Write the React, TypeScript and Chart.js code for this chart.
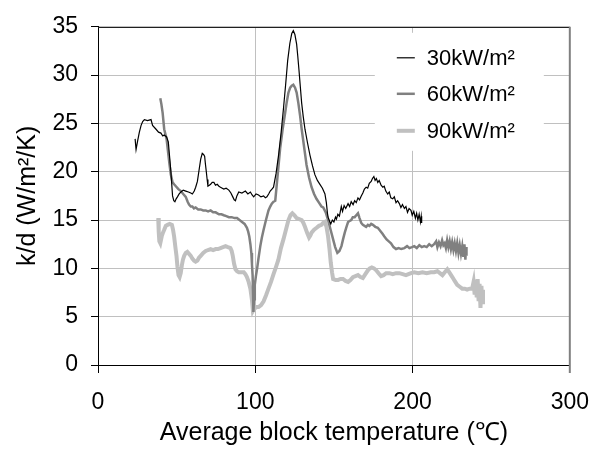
import React, { useEffect, useRef } from "react";
import { Chart, registerables } from "chart.js";

Chart.register(...registerables);

const FONT = "'Liberation Sans', Arial, sans-serif";

const xRange = [0, 300];
const xStep = 100;
const yRange = [0, 35];
const yStep = 5;

const seriesLabels = ["30kW/m²", "60kW/m²", "90kW/m²"];
const seriesColors = ["#000000", "#808080", "#c0c0c0"];
const seriesWidths = [1.2, 2.5, 4];

const s30: number[][] = [
  [23.6, 23.4], [24.2, 22.3], [25.2, 23.2], [26.3, 24.1], [27.4, 24.8], [28.4, 25.2], [29.5, 25.4], [31.5, 25.3],
  [33.7, 25.4], [34.7, 24.8], [36.9, 24.4], [38.5, 24.1], [40.0, 24.0], [41.2, 23.7], [42.1, 23.8], [43.6, 23.6],
  [44.7, 23.1], [45.5, 21.6], [46.3, 20.1], [47.4, 17.5], [48.2, 17.0], [48.9, 16.9], [49.7, 17.2], [50.5, 17.4],
  [51.6, 17.7], [52.7, 17.9], [54.2, 18.1], [55.8, 18.0], [57.5, 17.9], [59.0, 17.8], [60.0, 17.7], [61.2, 18.0],
  [62.1, 18.4], [63.2, 19.0], [64.2, 20.1], [65.3, 21.3], [66.3, 21.9], [67.1, 21.8], [67.8, 21.6], [68.3, 20.8],
  [68.8, 20.1], [69.4, 19.2], [69.9, 18.5], [70.8, 18.6], [71.6, 18.7], [72.6, 18.9], [73.7, 18.9], [74.7, 18.6],
  [75.8, 18.7], [76.9, 18.5], [77.9, 18.4], [79.0, 18.3], [80.0, 18.2], [81.5, 18.3], [83.2, 18.1], [84.5, 17.8],
  [85.7, 17.4], [86.6, 17.1], [87.4, 17.0], [88.3, 17.5], [89.5, 17.9], [91.5, 17.8], [93.7, 18.0], [95.3, 17.7],
  [96.9, 17.9], [98.0, 17.6], [99.0, 17.4], [100.5, 17.7], [102.1, 17.6], [103.6, 17.4], [105.3, 17.5], [106.4, 17.3],
  [107.4, 17.4], [108.5, 17.7], [109.5, 18.0], [110.6, 18.2], [111.6, 18.4], [113.2, 19.8], [114.8, 21.7], [116.4, 24.0],
  [117.9, 26.5], [119.3, 29.0], [120.6, 31.5], [122.0, 33.3], [123.2, 34.3], [124.2, 34.6], [125.2, 34.2], [126.3, 33.2],
  [127.0, 32.0], [127.8, 30.5], [128.7, 28.7], [129.5, 27.1], [130.5, 25.7], [131.6, 24.4], [133.2, 23.0], [134.8, 21.7],
  [136.4, 20.6], [137.9, 19.7], [139.5, 19.1], [141.1, 18.7], [142.7, 18.3], [144.3, 17.7], [145.2, 16.8], [145.9, 15.7],
  [146.3, 15.3], [147.2, 14.9], [148.0, 14.6], [149.0, 15.0], [150.0, 14.8], [151.0, 15.3], [151.6, 15.1], [152.5, 15.6],
  [153.5, 15.4], [154.7, 16.4], [155.5, 15.9], [156.5, 16.5], [157.5, 16.2], [159.0, 16.7], [160.0, 16.4], [161.0, 16.9],
  [162.2, 16.6], [163.2, 17.0], [164.2, 16.8], [165.3, 17.3], [166.3, 17.1], [167.4, 17.5], [168.4, 17.8], [169.4, 18.2],
  [170.5, 18.4], [171.5, 18.3], [172.5, 18.8], [173.7, 19.0], [174.5, 19.3], [175.4, 19.5], [176.2, 19.1], [177.0, 19.3],
  [177.9, 18.9], [178.8, 19.1], [180.0, 18.6], [181.1, 18.4], [182.0, 18.5], [183.0, 18.0], [184.2, 17.7], [185.2, 17.9],
  [186.2, 17.3], [187.4, 17.2], [188.4, 17.4], [189.5, 16.8], [190.5, 17.0], [191.6, 16.7], [192.6, 16.3], [193.6, 16.6],
  [194.8, 16.2], [195.8, 16.4], [196.8, 15.8], [197.8, 16.2], [199.0, 16.0], [199.8, 15.5], [200.8, 15.9], [201.8, 15.2],
  [202.6, 15.7], [203.4, 15.0], [204.2, 15.6], [205.0, 14.8], [205.5, 15.4], [205.8, 14.7],
];

const s60: number[][] = [
  [39.6, 27.6], [40.3, 27.0], [41.1, 26.1], [42.1, 24.4], [43.6, 23.4], [44.8, 21.7], [45.5, 20.7], [46.3, 19.7],
  [47.4, 18.9], [48.4, 18.7], [49.5, 18.5], [51.1, 18.2], [52.7, 18.0], [54.2, 17.7], [55.8, 17.4], [57.0, 16.9],
  [57.9, 16.6], [59.0, 16.4], [60.0, 16.4], [61.0, 16.2], [62.1, 16.3], [63.7, 16.1], [65.3, 16.1], [66.9, 16.0],
  [68.5, 16.0], [70.0, 15.9], [71.6, 16.0], [73.2, 15.8], [74.8, 15.8], [76.9, 15.6], [78.5, 15.6], [80.0, 15.5],
  [81.6, 15.4], [83.2, 15.3], [85.0, 15.3], [86.8, 15.2], [88.4, 15.2], [90.0, 15.0], [91.6, 14.8], [93.2, 14.6],
  [94.7, 14.2], [95.5, 13.8], [96.2, 13.3], [96.9, 12.5], [97.5, 11.6], [97.9, 10.4], [98.3, 9.3], [98.6, 7.3],
  [98.8, 5.5], [99.2, 6.8], [99.7, 8.3], [100.4, 9.2], [101.1, 9.9], [102.1, 11.1], [103.2, 12.3], [104.2, 13.2],
  [105.3, 14.0], [106.8, 15.0], [108.4, 16.0], [109.5, 16.4], [110.5, 16.7], [111.6, 16.9], [112.7, 17.0], [114.2, 19.6],
  [115.8, 22.4], [117.4, 24.4], [119.0, 26.1], [120.0, 27.2], [121.1, 28.2], [122.2, 28.7], [123.2, 28.9], [124.2, 29.0],
  [125.3, 28.7], [126.3, 28.2], [127.4, 27.1], [128.5, 25.8], [129.5, 24.4], [130.6, 23.1], [131.6, 21.9], [132.6, 20.7],
  [134.2, 19.4], [135.8, 18.4], [137.4, 17.7], [138.9, 17.2], [140.5, 16.8], [142.1, 16.4], [143.2, 16.3], [144.8, 15.8],
  [146.3, 15.0], [147.9, 14.0], [149.5, 13.0], [150.8, 12.2], [152.2, 11.6], [153.5, 11.8], [154.8, 12.3], [155.8, 13.0],
  [156.9, 13.7], [158.0, 14.3], [159.0, 14.8], [160.0, 14.9], [161.0, 15.0], [162.0, 15.3], [163.2, 15.3], [164.2, 15.5],
  [165.3, 15.7], [166.3, 15.2], [167.4, 14.7], [168.4, 14.5], [169.5, 14.4], [170.5, 14.3], [171.6, 14.5], [172.6, 14.4],
  [173.7, 14.6], [174.8, 14.5], [176.3, 14.3], [177.9, 14.2], [179.4, 13.9], [180.8, 13.6], [182.1, 13.3], [183.5, 13.0],
  [184.9, 12.8], [186.3, 12.6], [187.9, 12.2], [189.5, 12.0], [191.2, 12.1], [192.8, 12.0], [194.8, 12.1], [196.5, 12.3],
  [198.0, 12.1], [199.6, 12.2], [201.1, 12.3], [202.7, 12.1], [204.3, 12.4], [205.9, 12.2], [207.4, 12.3], [209.0, 12.2],
  [210.6, 12.5], [212.2, 12.3], [213.7, 12.5], [215.0, 12.8], [215.8, 12.2], [216.8, 12.7], [217.8, 12.3], [218.8, 12.9],
  [219.6, 12.4], [220.4, 12.6], [221.2, 12.1], [222.0, 12.9], [222.8, 12.2], [223.6, 12.8], [224.4, 12.0], [225.2, 12.7],
  [226.0, 11.9], [226.8, 12.6], [227.6, 11.8], [228.4, 12.6], [229.2, 11.6], [230.0, 12.4], [230.8, 11.5], [231.6, 12.3],
  [232.3, 11.2], [233.0, 12.5], [233.6, 10.9], [234.0, 12.2], [234.3, 11.3],
];

const s90: number[][] = [
  [38.3, 15.2], [38.6, 13.8], [39.0, 12.8], [39.6, 12.6], [40.5, 13.3], [41.3, 13.7], [42.1, 14.0], [43.1, 14.4],
  [44.2, 14.5], [45.6, 14.6], [47.0, 14.5], [47.7, 14.0], [48.4, 13.3], [49.2, 12.2], [49.9, 11.3], [50.5, 10.2],
  [51.2, 9.3], [51.9, 9.1], [52.6, 9.5], [53.3, 10.3], [54.0, 10.9], [54.8, 11.3], [55.8, 11.6], [56.8, 11.7],
  [57.9, 11.5], [59.0, 11.3], [60.0, 11.0], [61.1, 10.8], [62.1, 10.7], [63.2, 10.8], [64.2, 11.1], [65.3, 11.3],
  [66.9, 11.6], [68.5, 11.8], [70.0, 11.9], [71.6, 12.0], [73.2, 11.9], [74.8, 12.0], [76.3, 12.0], [77.9, 12.1],
  [79.5, 12.2], [81.1, 12.3], [82.6, 12.2], [84.2, 12.1], [85.0, 11.8], [85.7, 11.3], [86.5, 10.5], [87.4, 9.9],
  [88.4, 9.7], [89.5, 9.6], [91.0, 9.6], [92.7, 9.6], [93.7, 9.4], [94.7, 9.1], [95.8, 8.6], [96.9, 7.9],
  [97.4, 7.3], [97.9, 6.7], [98.5, 5.6], [99.2, 5.8], [100.0, 5.9], [101.0, 6.0], [102.1, 6.0], [103.7, 6.2],
  [105.3, 6.6], [106.8, 7.2], [108.4, 7.9], [110.0, 8.6], [111.6, 9.4], [113.1, 10.1], [114.7, 10.9], [116.3, 12.1],
  [117.9, 13.0], [119.5, 14.0], [121.1, 15.0], [122.4, 15.5], [123.6, 15.7], [124.9, 15.5], [126.3, 15.2], [127.9, 15.1],
  [129.5, 15.0], [130.6, 14.7], [131.6, 14.3], [132.9, 13.7], [134.2, 13.2], [135.0, 13.4], [135.8, 13.7], [137.4, 14.0],
  [139.0, 14.2], [140.5, 14.4], [142.1, 14.5], [143.2, 14.7], [144.3, 14.8], [145.3, 14.3], [146.3, 13.3], [147.2, 12.0],
  [148.0, 10.6], [148.8, 9.6], [149.5, 8.9], [151.1, 8.8], [152.7, 8.8], [154.2, 8.9], [155.8, 8.9], [157.4, 8.7],
  [159.0, 8.6], [160.5, 8.8], [162.1, 9.1], [163.7, 9.2], [165.3, 9.3], [166.9, 9.1], [168.4, 9.0], [170.0, 9.4],
  [171.6, 9.8], [172.8, 10.0], [174.1, 10.1], [175.5, 10.0], [176.9, 9.8], [178.4, 9.5], [180.0, 9.2], [181.6, 9.3],
  [183.2, 9.5], [185.3, 9.5], [187.4, 9.4], [189.5, 9.5], [191.6, 9.5], [193.7, 9.4], [195.8, 9.3], [197.4, 9.4],
  [199.0, 9.5], [201.1, 9.6], [203.7, 9.5], [206.3, 9.6], [209.0, 9.5], [211.6, 9.6], [213.7, 9.6], [215.8, 9.7],
  [217.4, 9.5], [219.0, 9.3], [220.5, 9.6], [222.1, 9.9], [223.7, 9.5], [225.3, 9.1], [226.8, 8.7], [228.4, 8.3],
  [230.0, 8.1], [231.6, 7.9], [233.2, 7.9], [234.7, 7.8], [236.3, 7.9], [237.9, 7.9], [238.8, 8.6], [239.5, 7.3],
  [240.2, 8.8], [240.8, 7.0], [241.4, 8.9], [242.0, 6.6], [242.6, 8.4], [243.2, 5.9], [243.8, 8.2], [244.3, 6.5],
  [244.8, 7.8],
];

const allSeries = [s30, s60, s90];

const framePlugin = {
  id: "frameAndLegend",
  afterDatasetsDraw(chart: any) {
    const { ctx, chartArea } = chart;
    const { left, right, top, bottom } = chartArea;
    ctx.save();
    // top frame line
    ctx.strokeStyle = "#202020";
    ctx.lineWidth = 1;
    ctx.beginPath();
    ctx.moveTo(left, Math.round(top) + 0.5);
    ctx.lineTo(right, Math.round(top) + 0.5);
    ctx.stroke();
    // right frame line
    ctx.strokeStyle = "#808080";
    ctx.lineWidth = 2;
    ctx.beginPath();
    ctx.moveTo(right, top);
    ctx.lineTo(right, bottom + 8);
    ctx.stroke();

    // legend
    const bx = right - 195;
    const by = top + 6;
    ctx.fillStyle = "#ffffff";
    ctx.fillRect(bx, by, 169, 118);
    const rowY = [31, 67, 104];
    ctx.font = `22px ${FONT}`;
    ctx.textBaseline = "middle";
    ctx.textAlign = "left";
    seriesLabels.forEach((lab, i) => {
      const y = top + rowY[i];
      ctx.strokeStyle = seriesColors[i];
      ctx.lineWidth = seriesWidths[i];
      ctx.beginPath();
      ctx.moveTo(bx + 22, y);
      ctx.lineTo(bx + 40, y);
      ctx.stroke();
      ctx.fillStyle = "#000000";
      ctx.fillText(lab, bx + 52, y + 1);
    });
    ctx.restore();
  },
};

export default function App() {
  const ref = useRef<HTMLCanvasElement | null>(null);
  useEffect(() => {
    if (!ref.current) return;
    const chart = new Chart(ref.current, {
      type: "line",
      data: {
        datasets: allSeries.map((s, i) => ({
          label: seriesLabels[i],
          data: s.map((p) => ({ x: p[0], y: p[1] })),
          borderColor: seriesColors[i],
          borderWidth: seriesWidths[i],
          pointRadius: 0,
          tension: 0,
          fill: false,
        })),
      },
      options: {
        animation: false,
        responsive: false,
        devicePixelRatio: 1,
        layout: { padding: { left: 0, right: 32, top: 19, bottom: 0 } },
        plugins: { legend: { display: false }, tooltip: { enabled: false } },
        scales: {
          x: {
            type: "linear",
            min: xRange[0],
            max: xRange[1],
            ticks: { stepSize: xStep, padding: 16, color: "#000", font: { family: FONT, size: 23 } },
            grid: { color: "#c0c0c0", tickColor: "#000", tickLength: 8, lineWidth: 1 },
            border: { color: "#000", width: 1 },
            title: {
              display: true,
              text: "Average block temperature (℃)",
              color: "#000",
              font: { family: FONT, size: 25 },
              padding: { top: 0, bottom: 2 },
            },
            afterFit: (scale: any) => {
              scale.height = 85;
            },
          },
          y: {
            type: "linear",
            min: yRange[0],
            max: yRange[1],
            ticks: { stepSize: yStep, padding: 13, color: "#000", font: { family: FONT, size: 23 } },
            grid: { color: "#c0c0c0", tickColor: "#000", tickLength: 7, lineWidth: 1 },
            border: { color: "#000", width: 1 },
            title: {
              display: true,
              text: "k/d (W/m²/K)",
              color: "#000",
              font: { family: FONT, size: 25 },
              padding: { top: 13, bottom: 0 },
            },
            afterFit: (scale: any) => {
              scale.width = 98;
            },
          },
        },
      },
      plugins: [framePlugin],
    });
    return () => chart.destroy();
  }, []);
  return (
    <div style={{ position: "absolute", left: 0, top: 0, width: 605, height: 450, background: "#fff" }}>
      <canvas ref={ref} width={605} height={450} />
    </div>
  );
}
